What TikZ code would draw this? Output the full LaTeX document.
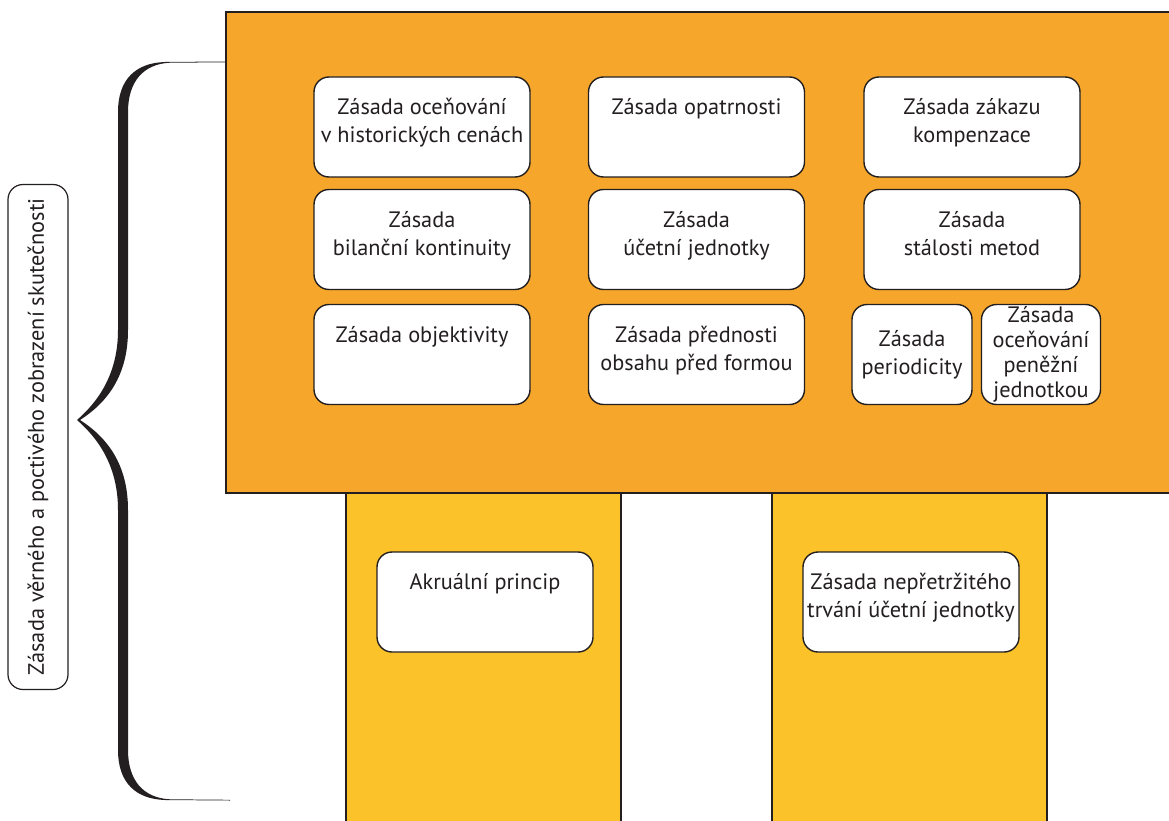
\documentclass[tikz,border=0pt]{standalone}
\usepackage{fontspec}
\setmainfont{PT Sans}
\usepackage{tikz}
\usetikzlibrary{positioning}
\definecolor{orangebg}{HTML}{F6A72B}
\definecolor{yellowcol}{HTML}{FBC22A}
\definecolor{ink}{HTML}{231F20}
\tikzstyle{zbox}=[rectangle, rounded corners=15pt, draw=ink, fill=white, line width=1.4pt, inner sep=0pt, minimum width=216pt, minimum height=100pt]
\tikzstyle{ztext}=[inner sep=0pt, align=center, text=ink, font=\fontsize{22.3}{28}\selectfont]

\begin{document}
\begin{tikzpicture}[x=1pt, y=-1pt]
    \useasboundingbox (0,0) rectangle (1169,821);

    % columns and the main block
    \draw[ink, line width=1.2pt, fill=yellowcol] (346,493) rectangle (621,830);
    \draw[ink, line width=1.2pt, fill=yellowcol] (772,493) rectangle (1047,830);
    \draw[ink, line width=1.4pt, fill=orangebg] (226,12) rectangle (1185,493);

    % first row
    \node[zbox] (h) at (422,127) {};
    \node[ztext] [below=22pt of h.north] {Zásada oceňování\\v historických cenách};
    \node[zbox] (o) at (696.5,127) {};
    \node[ztext] [below=22pt of o.north] {Zásada opatrnosti};
    \node[zbox] (k) at (972,127) {};
    \node[ztext] [below=22pt of k.north] {Zásada zákazu\\kompenzace};

    % second row
    \node[zbox] (b) at (422,239.5) {};
    \node[ztext] [below=22pt of b.north] {Zásada\\bilanční kontinuity};
    \node[zbox] (u) at (696.5,239.5) {};
    \node[ztext] [below=22pt of u.north] {Zásada\\účetní jednotky};
    \node[zbox] (s) at (972,239.5) {};
    \node[ztext] [below=22pt of s.north] {Zásada\\stálosti metod};

    % third row
    \node[zbox] (ob) at (422,354.5) {};
    \node[ztext] [below=22pt of ob.north] {Zásada objektivity};
    \node[zbox] (p) at (696.5,354.5) {};
    \node[ztext] [below=22pt of p.north] {Zásada přednosti\\obsahu před formou};
    \node[zbox, minimum width=120pt] (pe) at (912,354.5) {};
    \node[ztext] at (pe) {Zásada\\periodicity};
    \node[zbox, minimum width=119pt] (pj) at (1041,354.5) {};
    \node[ztext, font=\fontsize{22.3}{25}\selectfont] at (pj) {Zásada\\oceňování\\peněžní\\jednotkou};

    % columns
    \node[zbox] (a) at (485,602) {};
    \node[ztext] [below=22pt of a.north] {Akruální princip};
    \node[zbox] (n) at (911,602) {};
    \node[ztext] [below=22pt of n.north] {Zásada nepřetržitého\\trvání účetní jednotky};

    % label and brace
    \node[zbox, rotate=90, minimum width=505pt, minimum height=60pt, line width=1.2pt] (v) at (38,437) {};
    \node[ztext, rotate=90] at (v) {Zásada věrného a poctivého zobrazení skutečnosti};
    \fill[ink] (226,61.5) -- (165,62) .. controls (135,63) and (118,80) .. (118,112)
        -- (118,330) .. controls (118,372) and (100,400) .. (77,420)
        .. controls (100,440) and (118,468) .. (118,510)
        -- (118,750) .. controls (118,782) and (135,799) .. (165,800) -- (230,800.5)
        -- (230,799.8) -- (170,799.3) .. controls (143,798) and (128,780) .. (128,750)
        -- (128,510) .. controls (128,465) and (108,438) .. (80,420)
        .. controls (108,402) and (128,375) .. (128,330)
        -- (128,112) .. controls (128,82) and (143,64) .. (170,62.7) -- (226,62.3) -- cycle;
\end{tikzpicture}
\end{document}
